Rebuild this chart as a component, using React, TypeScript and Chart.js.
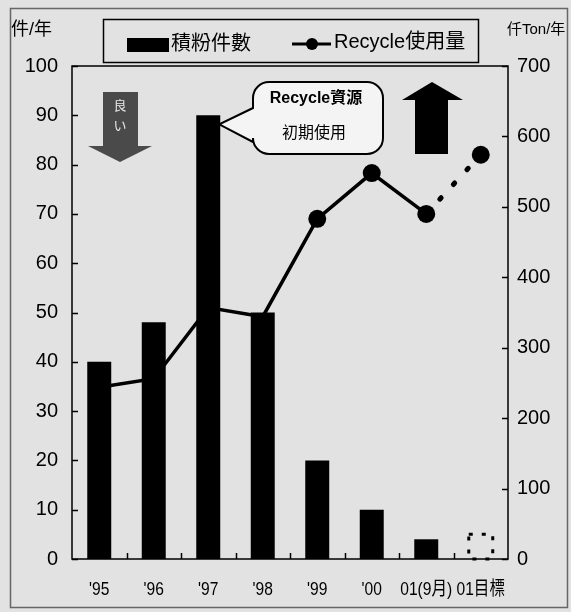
import React, { useEffect, useRef } from "react";
import { Chart, registerables } from "chart.js";

Chart.register(...registerables);

// ---- data ----
const categories = ["'95", "'96", "'97", "'98", "'99", "'00", "01(9月)", "01目標"];
const countValues = [40, 48, 90, 50, 20, 10, 4, 5];
const recycleValues = [244, 256, 357, 344, 483, 548, 490, 574];
const seriesNames = ["積粉件數", "Recycle使用量"];
const axisTitles = ["件/年", "仟Ton/年"];
const calloutLines = ["Recycle資源", "初期使用"];
const goodLabel = ["良", "い"];
const leftMax = 100;
const leftStep = 10;
const rightMax = 700;
const rightStep = 100;
const targetIndex = 7; // planned value drawn dashed
const firstMarkerIndex = 4; // markers before this are hidden behind bars

const FONT = "'Liberation Sans', Arial, 'Noto Sans CJK TC', sans-serif";
const CJK = "'Noto Sans CJK TC', 'Noto Sans CJK JP', sans-serif";

const decorPlugin = {
  id: "decor",
  beforeDraw(chart: any) {
    const ctx = chart.ctx;
    ctx.save();
    ctx.fillStyle = "#e2e2e2";
    ctx.fillRect(0, 0, chart.width, chart.height);
    ctx.strokeStyle = "#666";
    ctx.lineWidth = 1.5;
    ctx.strokeRect(10.5, 8.5, 557, 599);
    ctx.restore();
  },
  beforeDatasetsDraw(chart: any) {
    const ctx = chart.ctx;
    const a = chart.chartArea;
    const ys = chart.scales.y;
    const y2 = chart.scales.y2;
    const xs = chart.scales.x;
    ctx.save();
    ctx.strokeStyle = "#000";
    ctx.lineWidth = 1.5;
    ctx.strokeRect(a.left, a.top, a.right - a.left, a.bottom - a.top);
    ctx.beginPath();
    for (let v = 0; v <= leftMax; v += leftStep) {
      const p = Math.round(ys.getPixelForValue(v)) + 0.5;
      ctx.moveTo(a.left, p);
      ctx.lineTo(a.left + 6, p);
    }
    for (let v = 0; v <= rightMax; v += rightStep) {
      const p = Math.round(y2.getPixelForValue(v)) + 0.5;
      ctx.moveTo(a.right - 6, p);
      ctx.lineTo(a.right, p);
    }
    for (let i = 1; i < categories.length; i++) {
      const p = Math.round((xs.getPixelForValue(i - 1) + xs.getPixelForValue(i)) / 2) + 0.5;
      ctx.moveTo(p, a.bottom);
      ctx.lineTo(p, a.bottom - 6);
    }
    ctx.stroke();

    // category labels (condensed, as in the original print)
    ctx.fillStyle = "#000";
    ctx.font = `19px ${FONT}`;
    ctx.textAlign = "center";
    ctx.textBaseline = "middle";
    categories.forEach((lab, i) => {
      const px = xs.getPixelForValue(i);
      ctx.save();
      ctx.translate(px, a.bottom + 31);
      ctx.scale(0.82, 1);
      ctx.fillText(lab, 0, 0);
      ctx.restore();
    });
    ctx.restore();
  },
  afterDatasetsDraw(chart: any) {
    const ctx = chart.ctx;
    const bars = chart.getDatasetMeta(0).data;
    ctx.save();

    // dashed outline for target bar
    const tb = bars[targetIndex];
    if (tb) {
      ctx.strokeStyle = "#000";
      ctx.lineWidth = 3;
      ctx.setLineDash([4, 9]);
      ctx.strokeRect(tb.x - tb.width / 2, tb.y, tb.width, tb.base - tb.y);
      ctx.setLineDash([]);
    }

    // down arrow ("good" direction)
    ctx.fillStyle = "#4a4a4a";
    ctx.beginPath();
    ctx.moveTo(103, 92);
    ctx.lineTo(138, 92);
    ctx.lineTo(138, 146);
    ctx.lineTo(152, 146);
    ctx.lineTo(120, 162);
    ctx.lineTo(88, 146);
    ctx.lineTo(103, 146);
    ctx.closePath();
    ctx.fill();
    ctx.fillStyle = "#e8e8e8";
    ctx.font = `13px ${CJK}`;
    ctx.textAlign = "center";
    ctx.textBaseline = "middle";
    ctx.fillText(goodLabel[0], 120, 105);
    ctx.fillText(goodLabel[1], 120, 125);

    // up arrow
    ctx.fillStyle = "#000";
    ctx.beginPath();
    ctx.moveTo(432, 82);
    ctx.lineTo(463, 100);
    ctx.lineTo(448, 100);
    ctx.lineTo(448, 154);
    ctx.lineTo(415, 154);
    ctx.lineTo(415, 100);
    ctx.lineTo(402, 100);
    ctx.closePath();
    ctx.fill();

    // callout
    const pb = bars[2];
    const tipX = pb ? pb.x + pb.width / 2 - 1 : 218;
    const tipY = pb ? pb.y + 9 : 123;
    const x0 = 253, y0 = 82, x1 = 383, y1 = 154, r = 16;
    ctx.beginPath();
    ctx.moveTo(x0 + r, y0);
    ctx.lineTo(x1 - r, y0);
    ctx.arcTo(x1, y0, x1, y0 + r, r);
    ctx.lineTo(x1, y1 - r);
    ctx.arcTo(x1, y1, x1 - r, y1, r);
    ctx.lineTo(x0 + r, y1);
    ctx.arcTo(x0, y1, x0, y1 - r, r);
    ctx.lineTo(x0, 142);
    ctx.lineTo(tipX, tipY);
    ctx.lineTo(x0, 108);
    ctx.lineTo(x0, y0 + r);
    ctx.arcTo(x0, y0, x0 + r, y0, r);
    ctx.closePath();
    ctx.fillStyle = "#f4f4f4";
    ctx.fill();
    ctx.strokeStyle = "#000";
    ctx.lineWidth = 2;
    ctx.stroke();
    ctx.fillStyle = "#000";
    ctx.font = `bold 16px ${FONT}`;
    ctx.fillText(calloutLines[0], 316, 99);
    ctx.font = `16px ${CJK}`;
    ctx.fillText(calloutLines[1], 314, 132);

    ctx.restore();
  },
  afterDraw(chart: any) {
    const ctx = chart.ctx;
    ctx.save();
    // legend box
    ctx.strokeStyle = "#000";
    ctx.lineWidth = 1.5;
    ctx.strokeRect(103.5, 19.5, 375, 43);
    ctx.fillStyle = "#000";
    ctx.fillRect(127, 38, 42, 14);
    ctx.font = `20px ${FONT}`;
    ctx.textAlign = "left";
    ctx.textBaseline = "middle";
    ctx.fillText(seriesNames[0], 171, 44);
    ctx.lineWidth = 3;
    ctx.beginPath();
    ctx.moveTo(292, 44);
    ctx.lineTo(331, 44);
    ctx.stroke();
    ctx.beginPath();
    ctx.arc(312, 44, 6, 0, Math.PI * 2);
    ctx.fill();
    ctx.fillText(seriesNames[1], 334, 42);

    // axis titles
    ctx.font = `18px ${FONT}`;
    ctx.fillText(axisTitles[0], 11, 30);
    ctx.font = `15px ${FONT}`;
    ctx.fillText(axisTitles[1], 507, 30);
    ctx.restore();
  },
};

export default function App() {
  const ref = useRef<HTMLCanvasElement | null>(null);
  useEffect(() => {
    if (!ref.current) return;
    const chart = new Chart(ref.current, {
      type: "bar",
      data: {
        labels: categories,
        datasets: [
          {
            type: "bar",
            label: seriesNames[0],
            data: countValues,
            yAxisID: "y",
            order: 1,
            backgroundColor: (c: any) => (c.dataIndex === targetIndex ? "rgba(0,0,0,0)" : "#000"),
            borderWidth: 0,
            barPercentage: 0.44,
            categoryPercentage: 1,
          },
          {
            type: "line",
            label: seriesNames[1],
            data: recycleValues,
            yAxisID: "y2",
            order: 2,
            borderColor: "#000",
            backgroundColor: "#000",
            borderWidth: 3.5,
            tension: 0,
            pointRadius: (c: any) => (c.dataIndex >= firstMarkerIndex ? 9 : 0),
            pointBackgroundColor: "#000",
            pointBorderWidth: 0,
            borderCapStyle: "round",
            segment: {
              borderDash: (c: any) => (c.p1DataIndex === targetIndex ? [2, 18] : undefined),
              borderWidth: (c: any) => (c.p1DataIndex === targetIndex ? 5 : 3.5),
            },
          } as any,
        ],
      },
      options: {
        responsive: false,
        animation: false,
        layout: { padding: { top: 66, left: 0, right: 0, bottom: 0 } },
        plugins: { legend: { display: false }, tooltip: { enabled: false } },
        scales: {
          x: {
            type: "category",
            offset: true,
            grid: { display: false, drawTicks: false },
            border: { display: false },
            ticks: { display: false, autoSkip: false },
            afterFit: (s: any) => {
              s.height = 53;
            },
          },
          y: {
            position: "left",
            min: 0,
            max: leftMax,
            grid: { display: false, drawTicks: false },
            border: { display: false },
            ticks: { stepSize: leftStep, color: "#000", font: { size: 20, family: FONT }, padding: 14 },
            afterFit: (s: any) => {
              s.width = 72;
            },
          },
          y2: {
            position: "right",
            min: 0,
            max: rightMax,
            grid: { display: false, drawTicks: false },
            border: { display: false },
            ticks: { stepSize: rightStep, color: "#000", font: { size: 20, family: FONT }, padding: 9 },
            afterFit: (s: any) => {
              s.width = 63;
            },
          },
        },
      } as any,
      plugins: [decorPlugin],
    });
    return () => chart.destroy();
  }, []);
  return (
    <div style={{ position: "fixed", left: 0, top: 0, width: 571, height: 612 }}>
      <canvas ref={ref} width={571} height={612} />
    </div>
  );
}
